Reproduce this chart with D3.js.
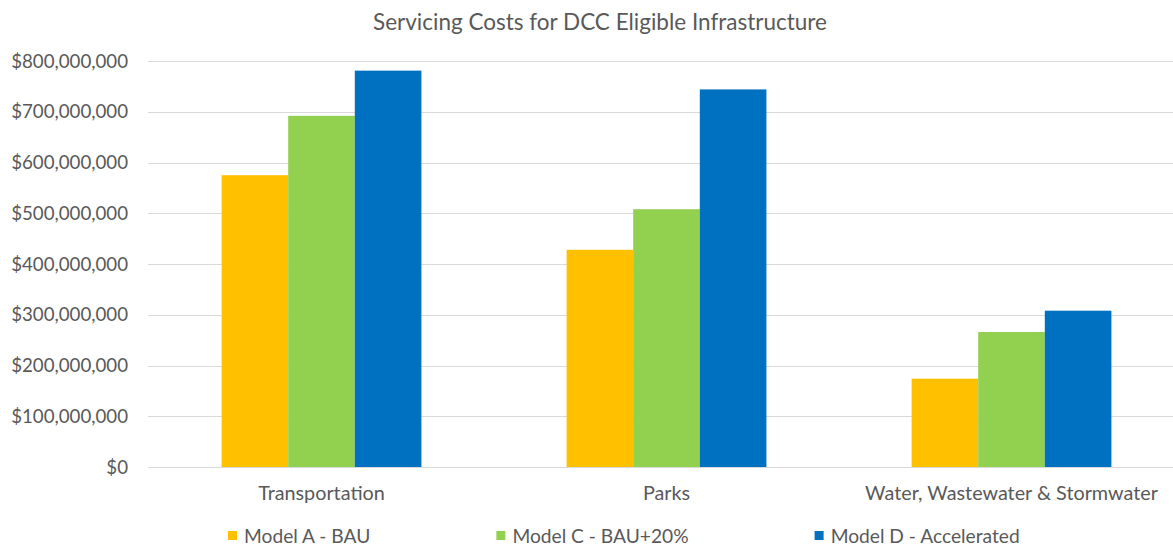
<!DOCTYPE html>
<html>
<head>
  <meta charset="utf-8">
  <title>Servicing Costs for DCC Eligible Infrastructure</title>
  <script src="https://d3js.org/d3.v7.min.js"></script>
  <style>
    body { margin: 0; background: #fff; }
    text { font-family: Lato, "Open Sans", sans-serif; fill: #595959; }
  </style>
</head>
<body>
  <div id="chart"></div>
  <script>
    // data
    var categories = ["Transportation", "Parks", "Water, Wastewater & Stormwater"];
    var seriesNames = ["Model A - BAU", "Model C - BAU+20%", "Model D - Accelerated"];
    var modelA = [575000000, 428000000, 174000000];
    var modelC = [692000000, 508000000, 266000000];
    var modelD = [781000000, 744000000, 308000000];
    var yTicks = [0, 100000000, 200000000, 300000000, 400000000, 500000000, 600000000, 700000000, 800000000];
    var colors = ["#FFC000", "#92D050", "#0070C0"];

    var width = 1173, height = 548;
    var allSeries = [modelA, modelC, modelD];

    var svg = d3.select("#chart").append("svg")
      .attr("width", width)
      .attr("height", height);

    var x = d3.scaleBand().domain(categories).range([149, 1184]).padding(0);
    var xs = d3.scaleBand().domain(seriesNames).range([0, x.bandwidth()])
      .paddingInner(0).paddingOuter(1.09);
    var y = d3.scaleLinear().domain([0, 800000000]).range([467, 61]);

    var fmt = function (d) { return "$" + d3.format(",")(d); };

    // gridlines
    svg.append("g").selectAll("line").data(yTicks.slice(1)).enter().append("line")
      .attr("x1", 148).attr("x2", width)
      .attr("y1", function (d) { return Math.round(y(d)) + 0.5; })
      .attr("y2", function (d) { return Math.round(y(d)) + 0.5; })
      .attr("stroke", "#d9d9d9").attr("stroke-width", 1);

    // y labels
    svg.append("g").selectAll("text").data(yTicks).enter().append("text")
      .attr("x", 128)
      .attr("y", function (d) { return y(d); })
      .attr("dy", "0.35em")
      .attr("text-anchor", "end")
      .style("font-size", "18.7px")
      .text(fmt);

    // bars
    var groups = svg.append("g").selectAll("g").data(categories).enter().append("g")
      .attr("transform", function (d) { return "translate(" + x(d) + ",0)"; });
    groups.selectAll("rect")
      .data(function (c, i) {
        return seriesNames.map(function (s, j) { return { s: s, v: allSeries[j][i], c: colors[j] }; });
      })
      .enter().append("rect")
      .attr("x", function (d) { return xs(d.s); })
      .attr("width", xs.bandwidth())
      .attr("y", function (d) { return y(d.v); })
      .attr("height", function (d) { return y(0) - y(d.v); })
      .attr("fill", function (d) { return d.c; });

    // x axis line
    svg.append("line")
      .attr("x1", 148).attr("x2", width)
      .attr("y1", Math.round(y(0)) + 0.5).attr("y2", Math.round(y(0)) + 0.5)
      .attr("stroke", "#d9d9d9");

    // category labels
    svg.append("g").selectAll("text").data(categories).enter().append("text")
      .attr("x", function (d) { return x(d) + x.bandwidth() / 2; })
      .attr("y", 500)
      .attr("text-anchor", "middle")
      .style("font-size", "19.8px")
      .text(function (d) { return d; });

    // title
    svg.append("text")
      .attr("x", 600).attr("y", 30)
      .attr("text-anchor", "middle")
      .style("font-size", "22.5px")
      .text("Servicing Costs for DCC Eligible Infrastructure");

    // legend
    var legend = svg.append("g");
    var lx = 228;
    seriesNames.forEach(function (s, i) {
      var g = legend.append("g").attr("transform", "translate(" + lx + ",531)");
      g.append("rect").attr("width", 9).attr("height", 9).attr("fill", colors[i]);
      var t = g.append("text").attr("x", 16).attr("y", 11.5)
        .style("font-size", "19.2px").text(s);
      lx += 16 + t.node().getComputedTextLength() + 126;
    });
  </script>
</body>
</html>
